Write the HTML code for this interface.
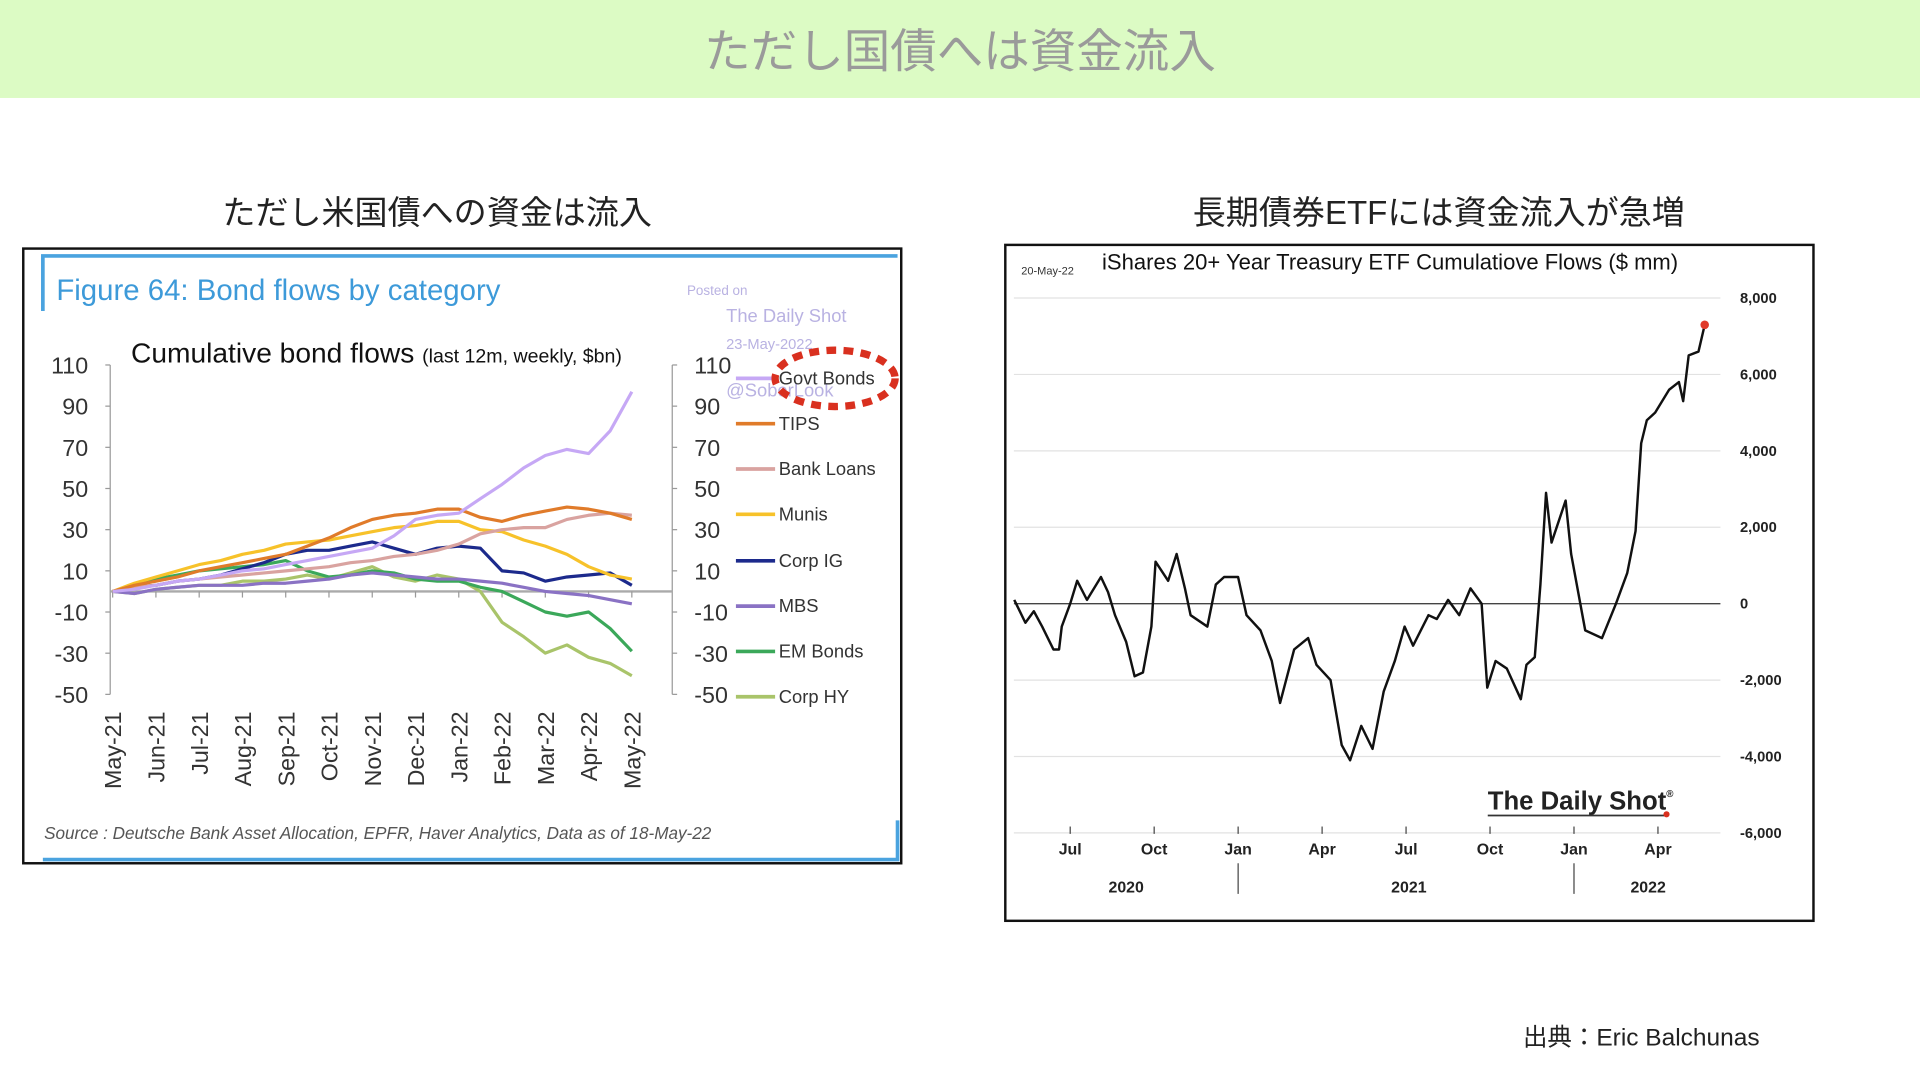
<!DOCTYPE html>
<html><head><meta charset="utf-8">
<style>
html,body{margin:0;padding:0;background:#fff;width:1920px;height:1080px;overflow:hidden}
svg{display:block}
text{font-family:"Liberation Sans","Noto Sans CJK JP",sans-serif}
</style></head>
<body>
<svg id="page" width="1920" height="1080" viewBox="0 0 1568 882" preserveAspectRatio="none" xmlns="http://www.w3.org/2000/svg">
  <rect x="0" y="0" width="1568" height="80" fill="#dcfbc4"/>
  <text x="784" y="55" text-anchor="middle" font-size="38" fill="#9a9a9a">ただし国債へは資金流入</text>
  <text x="357" y="183" text-anchor="middle" font-size="27" fill="#222">ただし米国債への資金は流入</text>
  <text x="1175" y="183" text-anchor="middle" font-size="27" fill="#222">長期債券ETFには資金流入が急増</text>
  <text x="1437" y="854" text-anchor="end" font-size="20" fill="#222">出典：Eric Balchunas</text>

  <!-- Left chart -->
  <g id="left">
    <rect x="19" y="203" width="717" height="502" fill="#fff" stroke="#111" stroke-width="2"/>
    <path d="M35 254 V209 H733" fill="none" stroke="#4aa3df" stroke-width="3"/>
    <path d="M35 702 H733 V670" fill="none" stroke="#4aa3df" stroke-width="3"/>
    <text x="46" y="245" font-size="24" fill="#3d9ad9">Figure 64: Bond flows by category</text>
    <text x="561" y="241" font-size="11" fill="#b9b2e2">Posted on</text>
    <text x="593" y="263" font-size="15" fill="#b9b2e2">The Daily Shot</text>
    <text x="593" y="285" font-size="12" fill="#b9b2e2">23-May-2022</text>
    <text x="593" y="324" font-size="15" fill="#b9b2e2">@SoberLook</text>
    <text x="107" y="296" font-size="23" fill="#111">Cumulative bond flows <tspan font-size="16">(last 12m, weekly, $bn)</tspan></text>
    <g id="lAxes"></g>
    <g id="lSeries"></g>
    <g id="lLegend"></g>
    <ellipse cx="682" cy="309" rx="49" ry="23" fill="none" stroke="#d9301f" stroke-width="6" stroke-dasharray="8 6"/>
    <text x="36" y="685" font-size="14" font-style="italic" fill="#555">Source : Deutsche Bank Asset Allocation, EPFR, Haver Analytics, Data as of 18-May-22</text>
  </g>

  <!-- Right chart -->
  <g id="right">
    <rect x="821" y="200" width="660" height="552" fill="#fff" stroke="#111" stroke-width="2"/>
    <text x="834" y="224" font-size="9" fill="#333">20-May-22</text>
    <text x="900" y="220" font-size="18" fill="#111">iShares 20+ Year Treasury ETF Cumulatiove Flows ($ mm)</text>
    <g id="rAxes"></g>
    <g id="rSeries"></g>
    <text x="1215" y="661" font-size="21" font-weight="bold" font-family="Liberation Serif, serif" fill="#222">The Daily Shot<tspan font-size="8" dy="-10">®</tspan></text>
    <line x1="1215" y1="666" x2="1362" y2="666" stroke="#333" stroke-width="1.5"/>
    <circle cx="1361" cy="665" r="2.5" fill="#d9301f"/>
  </g>
</svg>
<script>
const NS="http://www.w3.org/2000/svg";
// ---- Left chart data (semi-monthly, May-21 .. May-22, $bn)
const monthLabels=["May-21","Jun-21","Jul-21","Aug-21","Sep-21","Oct-21","Nov-21","Dec-21","Jan-22","Feb-22","Mar-22","Apr-22","May-22"];
const yTicksL=[110,90,70,50,30,10,-10,-30,-50];
const seriesNames=["Govt Bonds","TIPS","Bank Loans","Munis","Corp IG","MBS","EM Bonds","Corp HY"];
const seriesColors=["#c6a8f5","#e07b2a","#d9a3a0","#f7c22a","#1c2a8c","#8a72c4","#3ba85a","#a9c46a"];
const govtBonds=[0,1,3,5,6,8,10,11,13,15,17,19,21,27,35,37,38,45,52,60,66,69,67,78,97];
const tips=[0,3,5,7,10,12,14,16,18,22,26,31,35,37,38,40,40,36,34,37,39,41,40,38,35];
const bankLoans=[0,2,3,5,6,7,8,9,10,11,12,14,15,17,18,20,23,28,30,31,31,35,37,38,37];
const munis=[0,4,7,10,13,15,18,20,23,24,25,27,29,31,32,34,34,30,29,25,22,18,12,8,6];
const corpIG=[0,2,3,5,6,8,11,14,18,20,20,22,24,21,18,21,22,21,10,9,5,7,8,9,3];
const mbs=[0,-1,1,2,3,3,3,4,4,5,6,8,9,8,7,6,6,5,4,2,0,-1,-2,-4,-6];
const emBonds=[0,3,6,8,10,11,12,13,15,10,7,8,10,9,6,5,5,2,0,-5,-10,-12,-10,-18,-29];
const corpHY=[0,-1,1,2,3,3,5,5,6,8,6,9,12,7,5,8,6,0,-15,-22,-30,-26,-32,-35,-41];
const allSeries=[govtBonds,tips,bankLoans,munis,corpIG,mbs,emBonds,corpHY];

// ---- Right chart data (month index from Jan-2020 = 0, $mm)
const etfMonths=[4.0,4.4,4.7,5.0,5.4,5.6,5.7,6.0,6.25,6.6,7.1,7.35,7.6,8.0,8.3,8.6,8.9,9.05,9.5,9.8,10.1,10.3,10.9,11.2,11.5,12.0,12.3,12.8,13.2,13.5,14.0,14.5,14.8,15.3,15.7,16.0,16.4,16.8,17.2,17.6,17.95,18.25,18.8,19.1,19.5,19.9,20.3,20.7,20.9,21.2,21.6,22.1,22.3,22.6,22.8,23.0,23.2,23.7,23.9,24.4,25.0,25.5,25.9,26.2,26.4,26.6,26.9,27.4,27.75,27.9,28.1,28.45,28.67];
const etfFlows=[100,-500,-200,-600,-1200,-1200,-600,0,600,100,700,300,-300,-1000,-1900,-1800,-600,1100,600,1300,400,-300,-600,500,700,700,-300,-700,-1500,-2600,-1200,-900,-1600,-2000,-3700,-4100,-3200,-3800,-2300,-1500,-600,-1100,-300,-400,100,-300,400,0,-2200,-1500,-1700,-2500,-1600,-1400,500,2900,1600,2700,1300,-700,-900,0,800,1900,4200,4800,5000,5600,5800,5300,6500,6600,7300];
const yTicksR=[8000,6000,4000,2000,0,-2000,-4000,-6000];
const xTickMonths=[6,9,12,15,18,21,24,27];
const xTickNames=["Jul","Oct","Jan","Apr","Jul","Oct","Jan","Apr"];
const yearLabels=["2020","2021","2022"];
const yearMid=[8.0,18.1,26.65];
const yearSeps=[12,24];

function el(tag,attrs,parent,text){const e=document.createElementNS(NS,tag);for(const k in attrs)e.setAttribute(k,attrs[k]);if(text!==undefined)e.textContent=text;parent.appendChild(e);return e;}

// Left scales
const xL=i=>92+i*(424/24);
const yL=v=>483-v*(269/160);
const la=document.getElementById('lAxes');
let a=el('line',{x1:90,y1:yL(110),x2:90,y2:yL(-50),stroke:'#999','stroke-width':1},la);

a=el('line',{x1:549,y1:yL(110),x2:549,y2:yL(-50),stroke:'#999','stroke-width':1},la);

a=el('line',{x1:90,y1:yL(0),x2:549,y2:yL(0),stroke:'#aaa','stroke-width':2},la);

yTicksL.forEach(v=>{
  let t=el('text',{x:72,y:yL(v)+7,'text-anchor':'end','font-size':19,fill:'#333'},la,String(v));
  
  t=el('text',{x:567,y:yL(v)+7,'font-size':19,fill:'#333'},la,String(v));
  
  let k=el('line',{x1:86,y1:yL(v),x2:90,y2:yL(v),stroke:'#999'},la);
  
  k=el('line',{x1:549,y1:yL(v),x2:553,y2:yL(v),stroke:'#999'},la);
  
});
monthLabels.forEach((m,i)=>{
  const x=xL(i*2);
  let k=el('line',{x1:x,y1:yL(0),x2:x,y2:yL(0)+5,stroke:'#999'},la);
  
  let t=el('text',{x:0,y:0,'text-anchor':'end','font-size':19,fill:'#333',transform:`translate(${x+7},581) rotate(-90)`},la,m);
  
});
const ls=document.getElementById('lSeries');
const lg=document.getElementById('lLegend');
const legendY=[314,351,388,425,463,500,537,574];
for(let s=allSeries.length-1;s>=0;s--){
  const d=allSeries[s].map((v,i)=>(i?'L':'M')+xL(i).toFixed(1)+' '+yL(v).toFixed(1)).join(' ');
  const p=el('path',{d:d,fill:'none',stroke:seriesColors[s],'stroke-width':2.6,'stroke-linejoin':'round'},ls);
  
  
}
seriesNames.forEach((n,s)=>{
  const g=el('g',{},lg);
  
  
  el('line',{x1:601,y1:legendY[s]-5,x2:633,y2:legendY[s]-5,stroke:seriesColors[s],'stroke-width':3},g);
  el('text',{x:636,y:legendY[s],'font-size':15,fill:'#333'},g,n);
});

// Right scales
const xR=m=>874+(m-6)*22.857;
const yR=v=>493-v/2000*62.4;
const ra=document.getElementById('rAxes');
yTicksR.forEach(v=>{
  let g=el('line',{x1:828,y1:yR(v),x2:1405,y2:yR(v),stroke:v===0?'#444':'#e2e2e2','stroke-width':v===0?1.2:1},ra);
  
  let t=el('text',{x:1421,y:yR(v)+4,'font-size':12,'font-weight':'bold',fill:'#222'},ra,v.toLocaleString('en-US'));
  
});
xTickMonths.forEach((m,i)=>{
  let k=el('line',{x1:xR(m),y1:675,x2:xR(m),y2:681,stroke:'#444'},ra);
  
  let t=el('text',{x:xR(m),y:698,'text-anchor':'middle','font-size':13,'font-weight':'bold',fill:'#222'},ra,xTickNames[i]);
  
});
yearLabels.forEach((y,i)=>{
  let t=el('text',{x:xR(yearMid[i]),y:729,'text-anchor':'middle','font-size':13,'font-weight':'bold',fill:'#222'},ra,y);
  
});
yearSeps.forEach(m=>{
  let k=el('line',{x1:xR(m),y1:705,x2:xR(m),y2:730,stroke:'#444'},ra);
  
});
const rs=document.getElementById('rSeries');
const rd=etfMonths.map((m,i)=>(i?'L':'M')+xR(m).toFixed(1)+' '+yR(etfFlows[i]).toFixed(1)).join(' ');
const rp=el('path',{d:rd,fill:'none',stroke:'#111','stroke-width':2,'stroke-linejoin':'round'},rs);


const last=etfMonths.length-1;
const dot=el('circle',{cx:xR(etfMonths[last]),cy:yR(etfFlows[last]),r:3.5,fill:'#e03a2a'},rs);


</script>
</body></html>
